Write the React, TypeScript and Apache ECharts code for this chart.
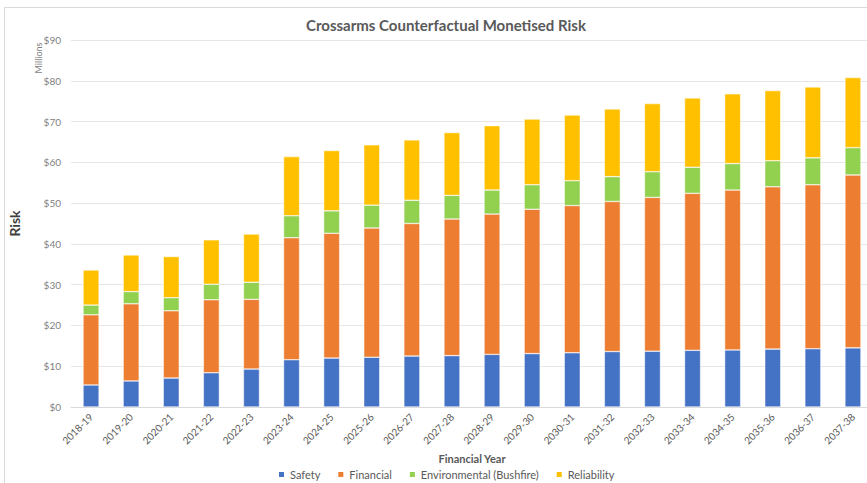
import React, { useEffect, useRef } from "react";
import * as echarts from "echarts";

const categories = [
  "2018-19", "2019-20", "2020-21", "2021-22", "2022-23", "2023-24", "2024-25",
  "2025-26", "2026-27", "2027-28", "2028-29", "2029-30", "2030-31", "2031-32",
  "2032-33", "2033-34", "2034-35", "2035-36", "2036-37", "2037-38",
];
const safety = [5.4, 6.4, 7.1, 8.4, 9.3, 11.6, 12.0, 12.2, 12.5, 12.6, 12.9, 13.1, 13.3, 13.6, 13.7, 13.9, 14.0, 14.2, 14.3, 14.5];
const financial = [17.2, 18.9, 16.5, 17.9, 17.1, 29.9, 30.6, 31.7, 32.5, 33.5, 34.4, 35.4, 36.1, 36.8, 37.7, 38.5, 39.2, 39.8, 40.2, 42.4];
const environmental = [2.4, 3.0, 3.2, 3.8, 4.2, 5.4, 5.5, 5.6, 5.7, 5.8, 5.9, 6.0, 6.1, 6.1, 6.3, 6.4, 6.5, 6.4, 6.6, 6.7];
const reliability = [8.6, 9.0, 10.1, 10.9, 11.8, 14.5, 14.8, 14.8, 14.8, 15.4, 15.8, 16.1, 16.1, 16.6, 16.7, 17.0, 17.1, 17.2, 17.4, 17.2];

const seriesNames = ["Safety", "Financial", "Environmental (Bushfire)", "Reliability"];
const seriesColors = ["#4472C4", "#ED7D31", "#92D050", "#FFC000"];

const FONT = "Lato, 'Open Sans', sans-serif";

export default function App() {
  const ref = useRef<HTMLDivElement>(null);
  useEffect(() => {
    document.body.style.margin = "0";
    const chart = echarts.init(ref.current!, null, { renderer: "svg" });
    const data = [safety, financial, environmental, reliability];
    chart.setOption({
      animation: false,
      backgroundColor: "#ffffff",
      textStyle: { fontFamily: FONT },
      title: {
        text: "Crossarms Counterfactual Monetised Risk",
        left: 441,
        textAlign: "center",
        top: 12,
        textStyle: { fontFamily: FONT, fontSize: 15, fontWeight: "bold", color: "#595959" },
      },
      legend: {
        left: 272,
        top: 464,
        icon: "rect",
        itemWidth: 7,
        itemHeight: 7,
        itemGap: 16,
        textStyle: { fontFamily: FONT, fontSize: 11, color: "#595959" },
        data: seriesNames,
      },
      grid: {
        left: 71,
        right: -6,
        top: 40,
        bottom: 76,
        containLabel: false,
        outerBoundsMode: "none",
      },
      xAxis: {
        type: "category",
        data: categories,
        name: "Financial Year",
        nameLocation: "middle",
        nameGap: 43,
        nameTextStyle: { fontFamily: FONT, fontSize: 11, fontWeight: "bold", color: "#595959" },
        axisLine: { lineStyle: { color: "#d9d9d9" } },
        axisTick: { show: false },
        axisLabel: { rotate: 45, fontSize: 10, color: "#595959", fontFamily: FONT, margin: 8, interval: 0 },
      },
      yAxis: {
        type: "value",
        min: 0,
        max: 90,
        interval: 10,
        name: "Risk",
        nameLocation: "middle",
        nameRotate: 90,
        nameGap: 50,
        nameTextStyle: { fontFamily: FONT, fontSize: 14, fontWeight: "bold", color: "#404040" },
        axisLine: { show: false },
        axisTick: { show: false },
        axisLabel: { formatter: "${value}", fontSize: 10, color: "#7f7f7f", fontFamily: FONT, margin: 10 },
        splitLine: { lineStyle: { color: "#e6e6e6", width: 1 } },
      },
      graphic: [
        {
          type: "rect",
          shape: { x: 4.5, y: 7.5, width: 900, height: 500 },
          style: { fill: "none", stroke: "#d9d9d9", lineWidth: 1 },
          silent: true,
          z: -1,
        },
        {
          type: "text",
          x: 38,
          y: 58,
          rotation: Math.PI / 2,
          style: {
            text: "Millions",
            fontFamily: FONT,
            fontSize: 9,
            fill: "#7f7f7f",
            textAlign: "center",
            textVerticalAlign: "middle",
          },
        },
      ],
      series: seriesNames.map((name, i) => ({
        name,
        type: "bar",
        stack: "total",
        data: data[i],
        barWidth: 16,
        itemStyle: { color: seriesColors[i], borderColor: "#ffffff", borderWidth: 0.5 },
      })),
    });
    return () => chart.dispose();
  }, []);
  return <div ref={ref} style={{ width: 867, height: 483 }} />;
}
